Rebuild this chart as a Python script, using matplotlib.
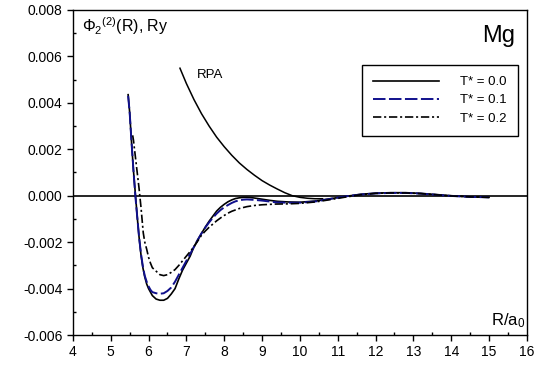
import matplotlib
matplotlib.use("Agg")
import matplotlib.pyplot as plt
from matplotlib.ticker import MultipleLocator, FuncFormatter

plt.rcParams["font.family"] = ["Liberation Sans", "DejaVu Sans"]
plt.rcParams["mathtext.fontset"] = "custom"
plt.rcParams["mathtext.rm"] = "Liberation Sans"
plt.rcParams["mathtext.it"] = "Liberation Sans:italic"
plt.rcParams["lines.scale_dashes"] = False

# T* = 0.0 (solid)
r_t0 = [5.46, 5.50, 5.55, 5.60, 5.65, 5.70, 5.75, 5.80, 5.85, 5.90, 5.95, 6.00,
        6.05, 6.10, 6.20, 6.30, 6.40, 6.50, 6.60, 6.70, 6.80, 6.90, 7.00, 7.10,
        7.20, 7.30, 7.40, 7.50, 7.60, 7.70, 7.80, 7.90, 8.00, 8.10, 8.20, 8.30,
        8.40, 8.50, 8.60, 8.70, 8.80, 9.00, 9.20, 9.40, 9.70, 10.0, 10.4, 10.8,
        11.2, 11.6, 12.0, 12.4, 12.8, 13.2, 13.6, 14.0, 14.5, 15.0]
phi_t0 = [0.00435, 0.0036, 0.0023, 0.0011, 0.0001, -0.0009, -0.0018, -0.00255,
          -0.0031, -0.0035, -0.0038, -0.0040, -0.00415, -0.0043, -0.00445, -0.0045,
          -0.0045, -0.00442, -0.00423, -0.0040, -0.00358, -0.0032, -0.0029, -0.0026,
          -0.0022, -0.0019, -0.00162, -0.00135, -0.0011, -0.00088, -0.00066, -0.0005,
          -0.00037, -0.00026, -0.00018, -0.00012, -0.00009, -0.00007, -0.00007,
          -0.00008, -0.0001, -0.00015, -0.0002, -0.00024, -0.00027, -0.00028,
          -0.00023, -0.00013, -0.00003, 0.00006, 0.00011, 0.00013, 0.00013, 0.0001,
          0.00005, 0.0, -0.00005, -0.00007]

# T* = 0.1 (dashed)
r_t1 = [5.46, 5.50, 5.55, 5.60, 5.65, 5.70, 5.75, 5.80, 5.85, 5.90, 5.95, 6.00,
        6.05, 6.10, 6.20, 6.30, 6.40, 6.50, 6.60, 6.70, 6.80, 6.90, 7.00, 7.10,
        7.20, 7.30, 7.40, 7.50, 7.60, 7.70, 7.80, 7.90, 8.00, 8.10, 8.20, 8.30,
        8.40, 8.50, 8.60, 8.70, 8.80, 9.00, 9.20, 9.40, 9.70, 10.0, 10.4, 10.8,
        11.2, 11.6, 12.0, 12.4, 12.8, 13.2, 13.6, 14.0, 14.5, 15.0]
phi_t1 = [0.0043, 0.0036, 0.0023, 0.0011, 0.0000, -0.0009, -0.0018, -0.0025,
          -0.00305, -0.00345, -0.0037, -0.0039, -0.00405, -0.00415, -0.0042,
          -0.00422, -0.0042, -0.0041, -0.00395, -0.0037, -0.0034, -0.0031, -0.0028,
          -0.0025, -0.0022, -0.0019, -0.00162, -0.00137, -0.00115, -0.00095,
          -0.00077, -0.00062, -0.0005, -0.0004, -0.00031, -0.00024, -0.0002,
          -0.00017, -0.00016, -0.00017, -0.00018, -0.00021, -0.00025, -0.00029,
          -0.0003, -0.0003, -0.00025, -0.00014, -0.00003, 0.00005, 0.0001, 0.00012,
          0.00012, 0.00009, 0.00004, -0.00001, -0.00005, -0.00007]

# T* = 0.2 (dash-dot)
r_t2 = [5.58, 5.60, 5.65, 5.70, 5.75, 5.80, 5.86, 5.90, 5.95, 6.00, 6.05, 6.10,
        6.20, 6.30, 6.40, 6.50, 6.60, 6.70, 6.80, 6.90, 7.00, 7.10, 7.20, 7.30,
        7.40, 7.50, 7.60, 7.70, 7.80, 7.90, 8.00, 8.10, 8.20, 8.40, 8.60, 8.80,
        9.00, 9.35, 9.70, 10.0, 10.4, 10.8, 11.2, 11.6, 12.0, 12.4, 12.8, 13.2,
        13.6, 14.0, 14.5, 15.0]
phi_t2 = [0.0026, 0.0024, 0.0017, 0.0010, 0.0003, -0.0005, -0.0016, -0.0020,
          -0.0023, -0.00265, -0.0029, -0.0031, -0.00325, -0.0034, -0.00344,
          -0.0034, -0.0033, -0.00318, -0.0030, -0.0028, -0.0026, -0.0024, -0.0022,
          -0.00195, -0.0017, -0.00152, -0.00136, -0.00122, -0.00108, -0.00096,
          -0.00085, -0.00075, -0.00067, -0.00055, -0.00047, -0.00042, -0.00039,
          -0.00036, -0.00035, -0.00033, -0.00027, -0.00017, -0.00006, 0.00004,
          0.0001, 0.00012, 0.00012, 0.00009, 0.00004, -0.00001, -0.00005, -0.00007]

# RPA
r_rpa = [6.83, 7.0, 7.2, 7.4, 7.6, 7.8, 8.0, 8.2, 8.4, 8.6, 8.8, 9.0, 9.2, 9.4,
         9.6, 9.8, 10.0, 10.2, 10.4, 10.6]
phi_rpa = [0.00549, 0.00483, 0.00414, 0.00353, 0.0030, 0.00252, 0.00211, 0.00174,
           0.00141, 0.00113, 0.00088, 0.00065, 0.00046, 0.00029, 0.00013, 0.0000,
           -0.00007, -0.00011, -0.00013, -0.00013]

fig = plt.figure(figsize=(5.36, 3.67), dpi=100)
ax = fig.add_axes([0.136, 0.087, 0.847, 0.886])

ax.axhline(0.0, color="black", lw=1.2)
ax.plot(r_rpa, phi_rpa, color="black", lw=1.1)
ax.plot(r_t0, phi_t0, color="black", lw=1.2, label="T* = 0.0")
ax.plot(r_t1, phi_t1, color="#10108c", lw=1.4, dashes=[9, 2.5], label="T* = 0.1")
ax.plot(r_t2, phi_t2, color="black", lw=1.2, dashes=[6, 2, 1.5, 2], label="T* = 0.2")

ax.set_xlim(4, 16)
ax.set_ylim(-0.006, 0.008)
ax.xaxis.set_major_locator(MultipleLocator(1))
ax.xaxis.set_minor_locator(MultipleLocator(0.5))
ax.yaxis.set_major_locator(MultipleLocator(0.002))
ax.yaxis.set_minor_locator(MultipleLocator(0.001))
ax.yaxis.set_major_formatter(FuncFormatter(lambda v, p: f"{v:.3f}" if abs(v) > 1e-9 else "0.000"))
ax.tick_params(which="major", direction="out", length=4, width=1, labelsize=10)
ax.tick_params(which="minor", direction="in", length=2.5, width=1)
for s in ax.spines.values():
    s.set_linewidth(1.0)

ax.text(4.25, 0.0073, r"$\Phi_2{}^{(2)}$(R), Ry", fontsize=11.5, va="center", ha="left")
ax.text(7.28, 0.0052, "RPA", fontsize=9.5, va="center", ha="left")
ax.text(15.68, 0.0066, "Mg", fontsize=17, va="baseline", ha="right")
ax.text(15.95, -0.0056, r"R/a$_0$", fontsize=12, va="baseline", ha="right")

leg = ax.legend(loc="upper right", bbox_to_anchor=(0.980, 0.831), fontsize=9.5,
                frameon=True, fancybox=False, edgecolor="black", framealpha=1,
                handlelength=5.0, handletextpad=1.6, labelspacing=0.45,
                borderpad=0.85, borderaxespad=0)
leg.get_frame().set_linewidth(1.0)

fig.savefig("out.png", dpi=100)
